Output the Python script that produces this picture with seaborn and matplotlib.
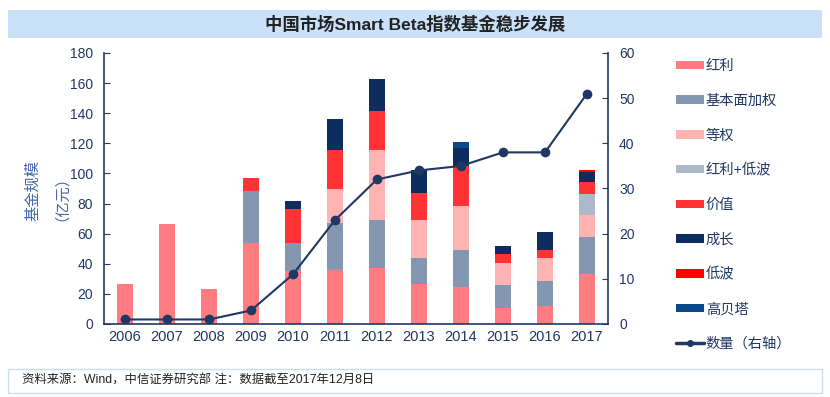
import matplotlib
matplotlib.use("Agg")
import matplotlib.pyplot as plt
from matplotlib.patches import Patch, Rectangle
from matplotlib.lines import Line2D
import numpy as np
import seaborn as sns

# 数据
years = ['2006', '2007', '2008', '2009', '2010', '2011',
         '2012', '2013', '2014', '2015', '2016', '2017']
dividend = [26.5, 66.5, 23.5, 53.8, 35.2, 36.0, 37.2, 26.8, 24.3, 10.8, 12.0, 33.0]
fundamental = [0, 0, 0, 34.3, 18.6, 31.3, 31.6, 16.8, 24.8, 14.9, 16.6, 24.6]
equal_weight = [0, 0, 0, 0, 0, 22.6, 46.5, 25.4, 29.3, 14.8, 15.0, 14.8]
div_lowvol = [0, 0, 0, 0, 0, 0, 0, 0, 0, 0, 0, 13.7]
value = [0, 0, 0, 8.9, 22.6, 25.6, 26.1, 17.8, 26.5, 5.8, 5.5, 8.2]
growth = [0, 0, 0, 0, 5.1, 20.6, 21.3, 15.3, 12.1, 5.7, 12.0, 6.6]
low_vol = [0, 0, 0, 0, 0, 0, 0, 0, 0, 0, 0, 1.6]
high_beta = [0, 0, 0, 0, 0, 0, 0, 0, 4.0, 0, 0, 0]
fund_count = [1, 1, 1, 3, 11, 23, 32, 34, 35, 38, 38, 51]

series_names = ['红利', '基本面加权', '等权', '红利+低波', '价值', '成长', '低波', '高贝塔']
series_vals = [dividend, fundamental, equal_weight, div_lowvol, value, growth, low_vol, high_beta]
colors = ['#ff7c80', '#8497b0', '#ffb3b3', '#adb9ca', '#ff3333', '#0d2d5e', '#ff0000', '#0b4a8a']
navy = '#1f3864'

sns.set_style('white')
plt.rcParams['font.family'] = ['Liberation Sans', 'Noto Sans CJK SC', 'DejaVu Sans']

fig = plt.figure(figsize=(8.3, 3.97), dpi=100)
ax = fig.add_axes([0.1253, 0.1839, 0.6072, 0.6826])

# 堆叠柱：从最上层累计值开始画，下层覆盖
cum = np.cumsum(np.array(series_vals), axis=0)
for i in range(len(series_names) - 1, -1, -1):
    sns.barplot(x=years, y=cum[i], color=colors[i], width=0.4,
                saturation=1, ax=ax, linewidth=0)

ax.set_ylim(0, 180)
ax.set_yticks(np.arange(0, 181, 20))
ax.set_xlim(-0.5, 11.5)
ax.set_xlabel('')
ax.set_ylabel('')
ax.set_xticks(np.arange(-0.5, 12, 1), minor=True)
ax.tick_params(axis='x', which='major', length=0, labelsize=10.5, colors=navy, pad=4)
ax.tick_params(axis='x', which='minor', direction='in', length=4, color=navy, width=1)
ax.tick_params(axis='y', direction='in', length=4, color=navy, labelsize=10, labelcolor=navy, pad=8)
for s in ['left', 'bottom']:
    ax.spines[s].set_color(navy)
    ax.spines[s].set_linewidth(1.2)
ax.spines['top'].set_visible(False)
ax.spines['right'].set_visible(False)

# 数量（右轴）
ax2 = ax.twinx()
sns.lineplot(x=np.arange(len(years)), y=fund_count, ax=ax2, color=navy,
             marker='o', markersize=7, markeredgewidth=0, linewidth=1.5)
ax2.set_ylim(0, 60)
ax2.set_yticks(np.arange(0, 61, 10))
ax2.set_xlim(-0.5, 11.5)
ax2.set_ylabel('')
ax2.tick_params(axis='y', direction='in', length=4, color=navy, labelsize=10, labelcolor=navy, pad=8)
ax2.spines['right'].set_color(navy)
ax2.spines['right'].set_linewidth(1.2)
for s in ['top', 'left', 'bottom']:
    ax2.spines[s].set_visible(False)
ax2.grid(False)

# Y 轴标题
fig.text(33 / 830, 1 - 191 / 397, '基金规模', rotation=90, ha='center', va='center',
         fontsize=11, color='#4666a6')
fig.text(54 / 830, 1 - 191 / 397, '（亿元）', rotation=90, ha='center', va='center',
         fontsize=11, color='#4666a6')

# 图例
handles = [Patch(facecolor=c, edgecolor='none') for c in colors]
handles.append(Line2D([0], [0], color=navy, marker='o', markersize=4, linewidth=2.5))
leg = fig.legend(handles, series_names + ['数量（右轴）'], loc='upper left',
                 bbox_to_anchor=(0.808, 0.866), frameon=False, fontsize=10.3,
                 handlelength=1.9, handleheight=0.55, handletextpad=0.15,
                 labelspacing=1.45, borderaxespad=0)
for t in leg.get_texts():
    t.set_color(navy)

# 标题栏
fig.patches.append(Rectangle((8 / 830, 1 - 38 / 397), 814 / 830, 28 / 397,
                             transform=fig.transFigure, facecolor='#c9e2f9',
                             edgecolor='none', zorder=0))
fig.text(0.5, 1 - 24 / 397, '中国市场Smart Beta指数基金稳步发展', ha='center', va='center',
         fontsize=12.5, fontweight='bold', color='#222222')

# 底部来源
fig.patches.append(Rectangle((8 / 830, 1 - 393 / 397), 814 / 830, 24 / 397,
                             transform=fig.transFigure, facecolor='white',
                             edgecolor='#cfdcea', linewidth=1, zorder=0))
fig.text(22 / 830, 1 - 381 / 397, '资料来源：Wind，中信证券研究部 注：数据截至2017年12月8日',
         ha='left', va='center', fontsize=8.9, color='#222222')

plt.savefig('out.png', dpi=100)
